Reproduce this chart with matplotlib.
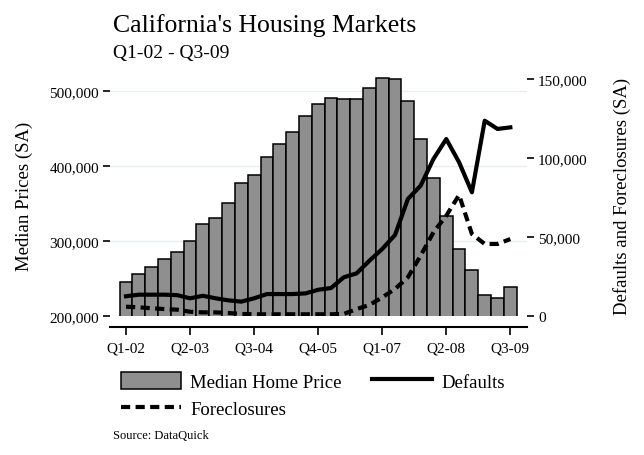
import numpy as np
import matplotlib
matplotlib.use("Agg")
import matplotlib.pyplot as plt
from matplotlib.ticker import FuncFormatter
from matplotlib.patches import Patch
from matplotlib.lines import Line2D

plt.rcParams['font.family'] = ['Liberation Serif', 'DejaVu Serif']

# quarterly data, Q1-02 .. Q3-09
quarters = ["Q1-02", "Q2-02", "Q3-02", "Q4-02", "Q1-03", "Q2-03", "Q3-03", "Q4-03",
            "Q1-04", "Q2-04", "Q3-04", "Q4-04", "Q1-05", "Q2-05", "Q3-05", "Q4-05",
            "Q1-06", "Q2-06", "Q3-06", "Q4-06", "Q1-07", "Q2-07", "Q3-07", "Q4-07",
            "Q1-08", "Q2-08", "Q3-08", "Q4-08", "Q1-09", "Q2-09", "Q3-09"]
median_price = [245700, 256000, 264900, 276000, 284900, 300000, 322200, 330700,
                350700, 377300, 388000, 412000, 429300, 444900, 466700, 482200,
                491100, 488900, 488900, 504400, 517300, 515600, 486700, 436000,
                384000, 333300, 289000, 260900, 228000, 223600, 238700]
defaults = [12500, 13500, 13500, 13500, 13200, 11200, 12800, 11200,
            9900, 9100, 11200, 13900, 13900, 13900, 14300, 16600,
            17700, 24500, 27000, 35000, 42400, 51300, 74000, 82500,
            99400, 112000, 97300, 78300, 123600, 118400, 119400]
foreclosures = [5900, 5500, 4900, 4400, 4000, 2700, 2300, 2300,
                1900, 1300, 1100, 1100, 1100, 1100, 1100, 1100,
                1100, 1300, 4400, 7000, 11800, 17100, 24500, 38200,
                53000, 63500, 76600, 51900, 45600, 45600, 48700]
tick_idx = [0, 5, 10, 15, 20, 25, 30]

x = np.arange(len(quarters))
dash = (0, (2.2, 1.3))

fig = plt.figure(figsize=(6.44, 4.56), dpi=100)
ax = fig.add_axes([0.1708, 0.3048, 0.6475, 0.5307])
ax2 = ax.twinx()

ax.bar(x, median_price, width=1.0, bottom=0, color='#8f8f8f', edgecolor='black', linewidth=1.1, zorder=2)
ax.set_ylim(200000, 522667)
ax.set_xlim(-1.25, 31.3)
ax.set_yticks([200000, 300000, 400000, 500000])
ax.yaxis.set_major_formatter(FuncFormatter(lambda v, p: "{:,.0f}".format(v)))
ax.grid(axis='y', color='#e6eeee', linewidth=1.0)
ax.set_axisbelow(True)
ax.set_xticks(tick_idx)
ax.set_xticklabels([quarters[i] for i in tick_idx])

ax2.plot(x, defaults, color='black', linewidth=3.0, solid_joinstyle='round', zorder=3)
ax2.plot(x, foreclosures, color='black', linewidth=3.0, linestyle=dash, zorder=3)
ax2.set_ylim(0, 153165)
ax2.set_yticks([0, 50000, 100000, 150000])
ax2.yaxis.set_major_formatter(FuncFormatter(lambda v, p: "{:,.0f}".format(v)))

for s in ['left', 'right', 'top']:
    ax.spines[s].set_visible(False)
for s in ['left', 'right', 'top', 'bottom']:
    ax2.spines[s].set_visible(False)
ax.spines['bottom'].set_position(('outward', 8))
ax.spines['bottom'].set_linewidth(1.5)

ax.tick_params(axis='y', length=5, width=1.2, pad=3, labelsize=11)
ax.tick_params(axis='x', length=6, width=1.2, pad=4, labelsize=11)
ax2.tick_params(axis='y', length=5, width=1.2, pad=3, labelsize=11)

ax.set_ylabel("Median Prices (SA)", fontsize=13.5, labelpad=12)
ax2.set_ylabel("Defaults and Foreclosures (SA)", fontsize=13.5, labelpad=18)

fig.text(0.175, 0.943, "California's Housing Markets", fontsize=18.5, va='center', ha='left')
fig.text(0.175, 0.883, "Q1-02 - Q3-09", fontsize=14, va='center', ha='left')
fig.text(0.175, 0.043, "Source: DataQuick", fontsize=9, va='center', ha='left')

handles = [Patch(facecolor='#8f8f8f', edgecolor='black', linewidth=1.1),
           Line2D([], [], color='black', linewidth=3.0, linestyle=dash),
           Line2D([], [], color='black', linewidth=3.0)]
labels = ["Median Home Price", "Foreclosures", "Defaults"]
fig.legend(handles, labels, ncol=2, loc='upper left', bbox_to_anchor=(0.188, 0.182),
           frameon=False, fontsize=13.5, handlelength=3.2, handleheight=1.0,
           columnspacing=1.6, handletextpad=0.5, labelspacing=0.45, borderaxespad=0, borderpad=0)

fig.savefig("out.png", dpi=100)
